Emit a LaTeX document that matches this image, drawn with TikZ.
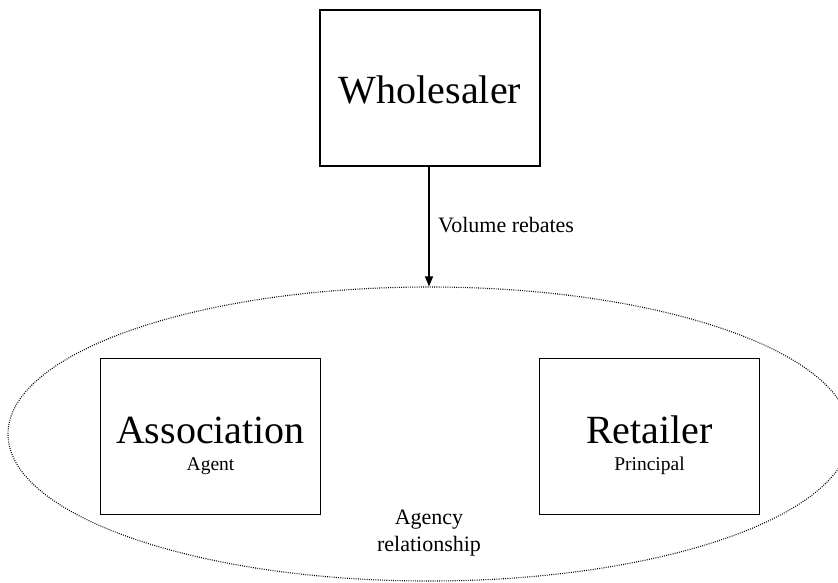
\documentclass[tikz,border=0pt]{standalone}
\usepackage{fontspec}
\setmainfont{Liberation Serif}
\usetikzlibrary{arrows.meta,shapes.geometric}
\begin{document}
\begin{tikzpicture}[x=1pt,y=-1pt,
  box/.style={draw,line width=1.7pt,minimum width=220pt,minimum height=156pt,inner sep=0pt},
  big/.style={font=\fontsize{40}{44}\selectfont,inner sep=0pt,anchor=base},
  small/.style={font=\fontsize{19.5}{22}\selectfont,inner sep=0pt,anchor=base},
  lab/.style={font=\fontsize{22}{27}\selectfont,inner sep=0pt}]
\useasboundingbox (0,0) rectangle (838,582);
\clip (0,0) rectangle (838,582);
\node[box] (whole) at (430,88) {};
\node[big] (wt) at (430,103) {Wholesaler};
\node[box] (assoc) at (210.5,436.5) {};
\node[big] (at) at (210.5,443) {Association};
\node[small] (as) at (210.5,470) {Agent};
\node[box] (ret) at (649.5,436.5) {};
\node[big] (rt) at (649.5,443) {Retailer};
\node[small] (rs) at (649.5,470) {Principal};
\node[draw,line width=1.1pt,dash pattern=on 0.9pt off 1.3pt,ellipse,minimum width=842pt,minimum height=294pt,inner sep=0pt] (ell) at (429,434) {};
\draw[line width=1.4pt,-{Triangle[length=10pt,width=8pt]}] (whole.south -| 429,0) -- (ell.north);
\node[lab,anchor=base west] (vr) at (438,232) {Volume rebates};
\node[lab,align=center,anchor=base] (ag) at (429,551) {Agency\\relationship};
\end{tikzpicture}
\end{document}
